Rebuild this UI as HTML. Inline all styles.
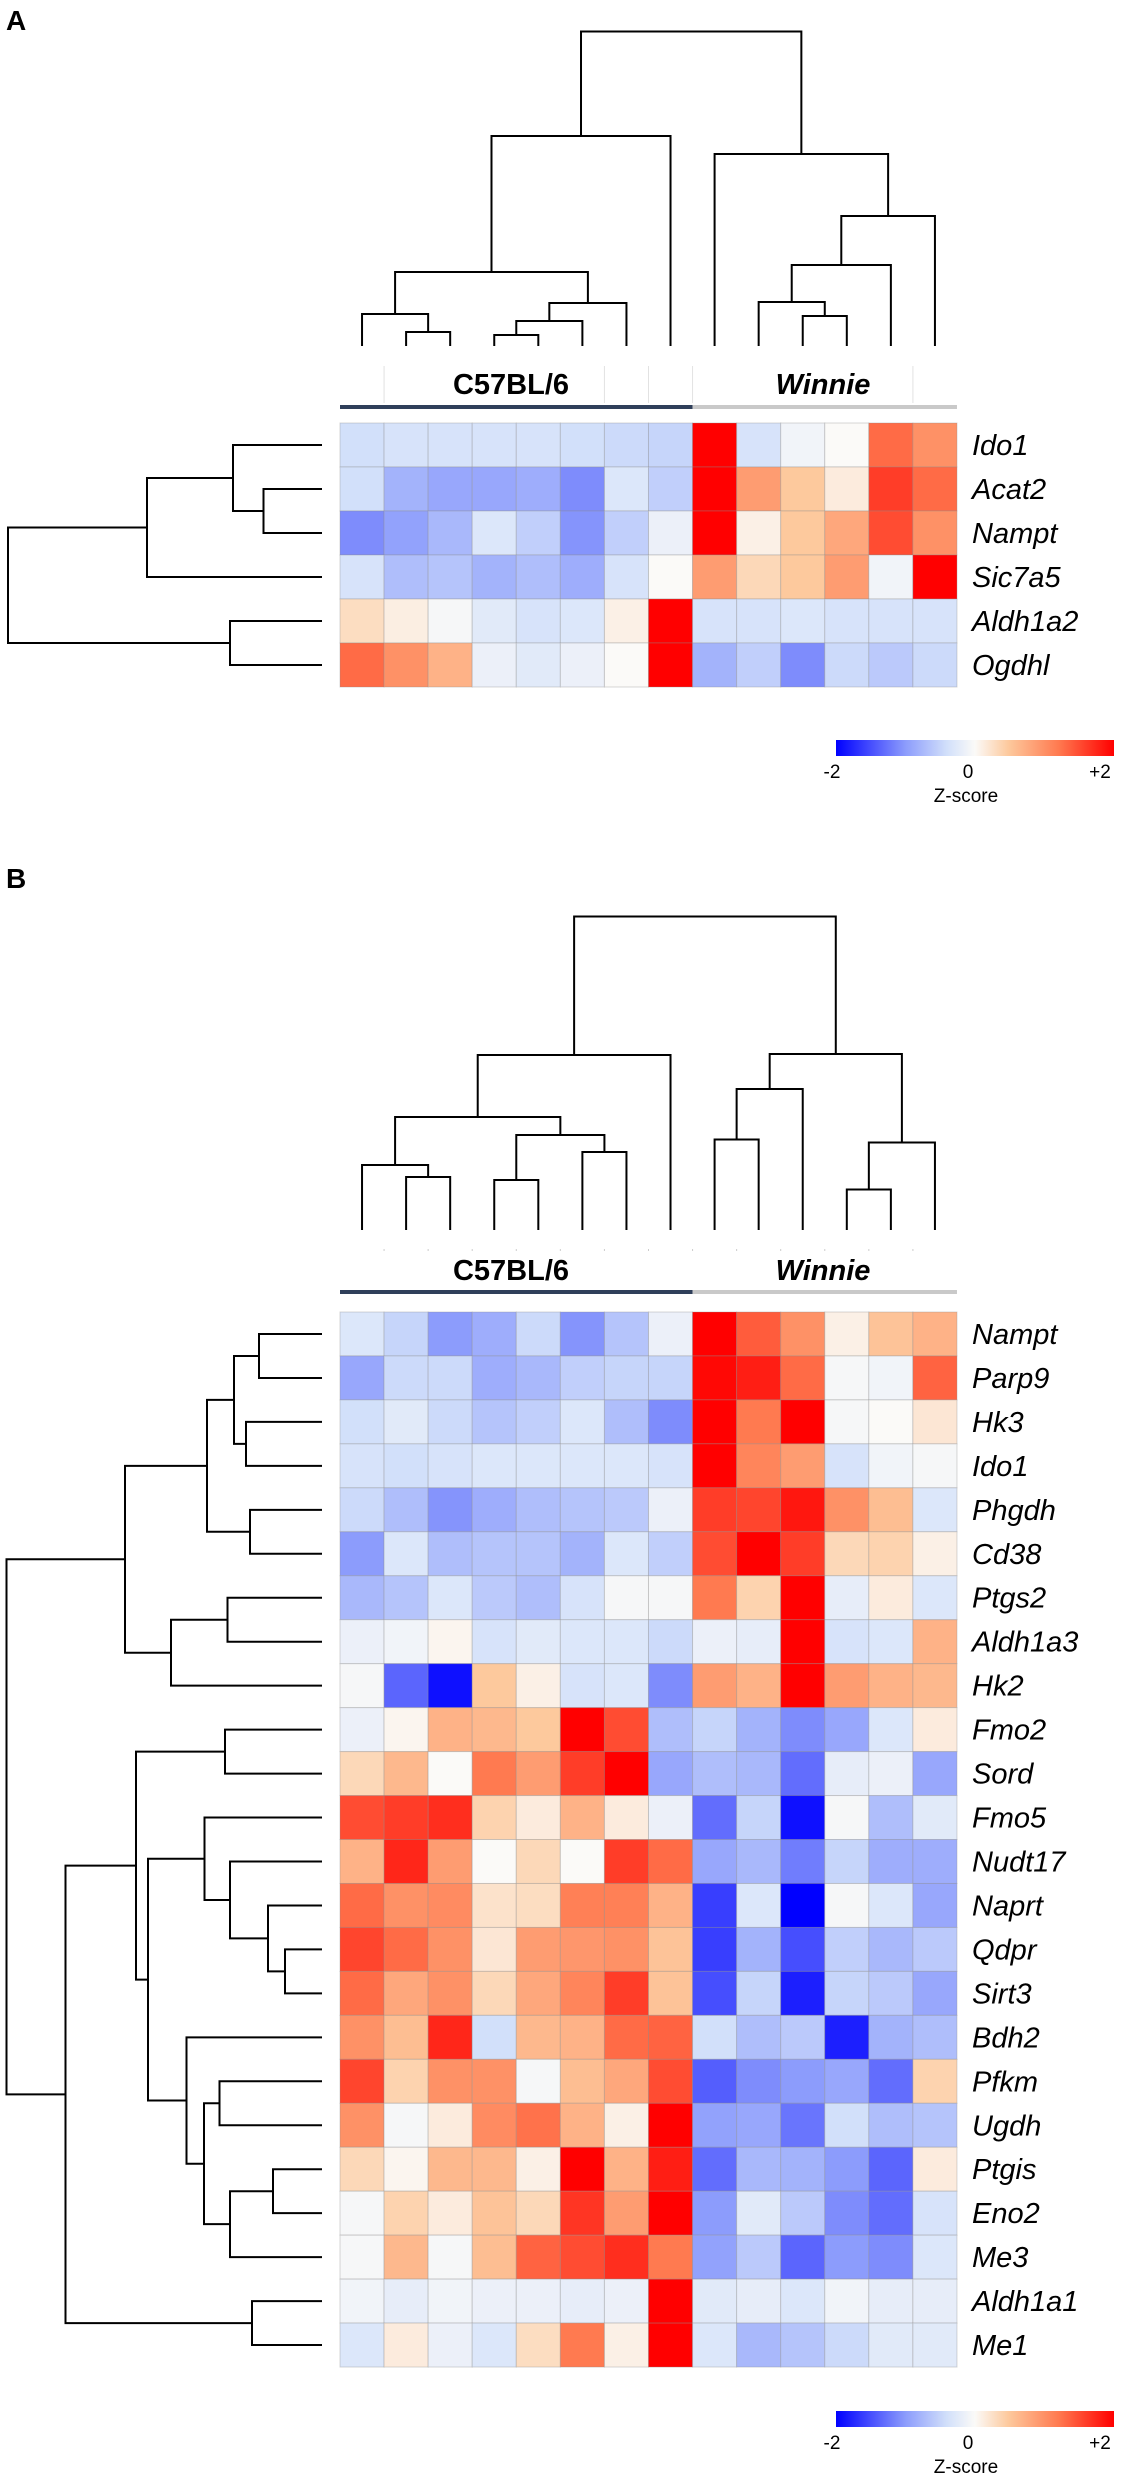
<!DOCTYPE html>
<html><head><meta charset="utf-8">
<style>
html,body{margin:0;padding:0;background:#fff;}
svg{display:block;font-family:"Liberation Sans",Arial,sans-serif;}
</style></head>
<body>
<svg id="fig" width="1123" height="2480" viewBox="0 0 1123 2480" xmlns="http://www.w3.org/2000/svg">
<defs>
<linearGradient id="zgrad" x1="0" x2="1" y1="0" y2="0">
<stop offset="0" stop-color="#0000ff"/>
<stop offset="0.25" stop-color="#8c9cfc"/>
<stop offset="0.4" stop-color="#d2e0fa"/>
<stop offset="0.5" stop-color="#fbfaf8"/>
<stop offset="0.62" stop-color="#fdc99d"/>
<stop offset="0.8" stop-color="#ff7a50"/>
<stop offset="1" stop-color="#ff0000"/>
</linearGradient>
</defs>
<text x="6" y="30" font-size="28" font-weight="bold">A</text>
<text x="6" y="888" font-size="28" font-weight="bold">B</text>
</svg>
<script>
// ---------- Data ----------
const groupLabels = ["C57BL/6", "Winnie"];
const genesA = ["Ido1","Acat2","Nampt","Sic7a5","Aldh1a2","Ogdhl"];
const valuesA = [
 [-0.4,-0.35,-0.35,-0.35,-0.35,-0.4,-0.45,-0.5, 2,-0.35,-0.1,0,1.3,1.0],
 [-0.4,-0.8,-0.9,-0.9,-0.85,-1.1,-0.3,-0.55, 2,0.9,0.5,0.15,1.6,1.3],
 [-1.1,-0.95,-0.75,-0.3,-0.55,-1.05,-0.55,-0.15, 2,0.1,0.5,0.8,1.5,1.0],
 [-0.35,-0.7,-0.65,-0.8,-0.7,-0.85,-0.35,0, 0.9,0.35,0.5,0.9,-0.1,2],
 [0.3,0.12,-0.05,-0.25,-0.35,-0.3,0.1,2, -0.35,-0.35,-0.3,-0.35,-0.35,-0.35],
 [1.3,1.0,0.7,-0.15,-0.25,-0.15,0,2, -0.8,-0.55,-1.1,-0.45,-0.6,-0.45]
];
const genesB = ["Nampt","Parp9","Hk3","Ido1","Phgdh","Cd38","Ptgs2","Aldh1a3","Hk2","Fmo2","Sord","Fmo5","Nudt17","Naprt","Qdpr","Sirt3","Bdh2","Pfkm","Ugdh","Ptgis","Eno2","Me3","Aldh1a1","Me1"];
const valuesB = [
 [-0.3,-0.5,-1.0,-0.85,-0.45,-1.05,-0.65,-0.15, 2,1.4,1.0,0.1,0.55,0.7],
 [-0.9,-0.45,-0.45,-0.85,-0.75,-0.55,-0.5,-0.5, 1.95,1.8,1.3,-0.05,-0.1,1.35],
 [-0.4,-0.25,-0.45,-0.65,-0.55,-0.3,-0.7,-1.1, 2,1.2,2,-0.05,0,0.2],
 [-0.35,-0.4,-0.35,-0.3,-0.3,-0.3,-0.3,-0.35, 2,1.1,0.9,-0.35,-0.1,-0.05],
 [-0.45,-0.7,-1.05,-0.85,-0.7,-0.65,-0.6,-0.15, 1.6,1.55,1.85,1.0,0.6,-0.3],
 [-1.0,-0.3,-0.7,-0.65,-0.65,-0.8,-0.3,-0.55, 1.5,2,1.6,0.35,0.4,0.1],
 [-0.75,-0.65,-0.3,-0.6,-0.7,-0.35,-0.05,-0.05, 1.2,0.4,2,-0.2,0.15,-0.3],
 [-0.15,-0.1,0.05,-0.35,-0.25,-0.3,-0.3,-0.45, -0.15,-0.2,2,-0.35,-0.3,0.7],
 [-0.05,-1.35,-1.9,0.5,0.1,-0.35,-0.3,-1.1, 0.9,0.7,2,0.9,0.7,0.65],
 [-0.15,0.05,0.7,0.65,0.5,2,1.5,-0.7, -0.5,-0.8,-1.1,-0.9,-0.3,0.15],
 [0.35,0.65,0,1.2,0.9,1.6,2,-0.9, -0.7,-0.75,-1.3,-0.2,-0.15,-0.9],
 [1.5,1.6,1.7,0.4,0.15,0.7,0.15,-0.15, -1.3,-0.5,-1.9,-0.05,-0.7,-0.25],
 [0.7,1.75,0.9,0,0.35,0,1.6,1.3, -0.9,-0.75,-1.2,-0.5,-0.85,-0.85],
 [1.3,1.0,1.05,0.25,0.3,1.15,1.15,0.7, -1.6,-0.3,-2,-0.05,-0.3,-0.9],
 [1.55,1.3,1.0,0.2,0.9,0.95,1.0,0.55, -1.6,-0.8,-1.5,-0.55,-0.75,-0.6],
 [1.3,0.8,1.0,0.35,0.8,1.1,1.6,0.55, -1.5,-0.5,-1.8,-0.5,-0.6,-0.9],
 [1.0,0.6,1.75,-0.4,0.65,0.7,1.3,1.35, -0.4,-0.7,-0.6,-1.8,-0.8,-0.7],
 [1.55,0.4,1.0,1.0,-0.05,0.6,0.8,1.5, -1.4,-1.1,-1.0,-0.9,-1.3,0.4],
 [1.0,-0.05,0.15,1.05,1.25,0.7,0.1,2, -0.95,-0.9,-1.25,-0.4,-0.7,-0.65],
 [0.35,0.05,0.65,0.65,0.1,2,0.7,1.8, -1.3,-0.75,-0.8,-1.0,-1.35,0.15],
 [-0.05,0.4,0.15,0.55,0.35,1.65,0.9,2, -1.0,-0.25,-0.6,-1.1,-1.3,-0.35],
 [-0.05,0.65,-0.05,0.6,1.35,1.5,1.7,1.2, -0.95,-0.6,-1.35,-1.0,-1.1,-0.3],
 [-0.1,-0.2,-0.1,-0.15,-0.15,-0.2,-0.15,2, -0.25,-0.2,-0.3,-0.1,-0.2,-0.2],
 [-0.3,0.15,-0.15,-0.3,0.3,1.2,0.1,2, -0.3,-0.75,-0.65,-0.45,-0.25,-0.25]
];
// dendrogram merges: [a, b, height]; leaves = "L#", previous merges = "M#"
const colTreeA = [["L1","L2",14],["L0","M0",32],["L3","L4",11],["M2","L5",25],["M3","L6",43],["M1","M4",74],["M5","L7",210],
 ["L10","L11",30],["L9","M7",44],["M8","L12",81],["M9","L13",130],["L8","M10",192],["M6","M11",314.5]];
const rowTreeA = [["L1","L2",58.5],["L0","M0",89],["M1","L3",175],["L4","L5",92],["M2","M3",314]];
const colTreeB = [["L1","L2",53],["L0","M0",65],["L3","L4",50],["L5","L6",78],["M2","M3",95],["M1","M4",113],["M5","L7",175],
 ["L8","L9",90.5],["M7","L10",141],["L11","L12",40.5],["M9","L13",87.5],["M8","M10",176],["M6","M11",313.5]];
const rowTreeB = [["L0","L1",63],["L2","L3",76],["M0","M1",88],["L4","L5",72],["M2","M3",115],["L6","L7",94.5],["M5","L8",151],["M4","M6",197],
 ["L9","L10",97],["L14","L15",37],["L13","M9",54],["L12","M10",92],["L11","M11",117.5],["L17","L18",102.5],["L19","L20",49],["M14","L21",92],
 ["M13","M15",118],["L16","M16",135.5],["M12","M17",174],["M8","M18",186],["L22","L23",70],["M19","M20",256.5],["M7","M21",315.5]];
const scaleTicks = ["-2","0","+2"];

// ---------- Drawing ----------
const NS = "http://www.w3.org/2000/svg";
const svg = document.getElementById("fig");
function mk(tag, attrs, parent){ const e=document.createElementNS(NS,tag); for(const k in attrs) e.setAttribute(k,attrs[k]); (parent||svg).appendChild(e); return e; }
const stops=[[-2,[0,0,255]],[-1,[140,156,252]],[-0.4,[210,224,250]],[0,[251,250,248]],[0.5,[253,201,157]],[1.2,[255,122,80]],[2,[255,0,0]]];
function color(v){ v=Math.max(-2,Math.min(2,v)); for(let i=0;i<stops.length-1;i++){const [a,ca]=stops[i],[b,cb]=stops[i+1]; if(v<=b){const t=(v-a)/(b-a); return "rgb("+ca.map((c,j)=>Math.round(c+(cb[j]-c)*t)).join(",")+")";}} return "rgb(255,0,0)"; }

function drawTree(tree, leafPos, base, dir, g, name){
  // dir "up": base is y of leaf ends, height decreases y; "left": base is x, height decreases x
  const nodes={};
  const pos=(id)=> id[0]==="L"? {p:leafPos(+id.slice(1)),h:0} : nodes[id];
  tree.forEach((m,i)=>{
    const a=pos(m[0]), b=pos(m[1]), h=m[2];
    let d;
    if(dir==="up"){ const ya=base-a.h, yb=base-b.h, y=base-h; d=`M${a.p},${ya}V${y}H${b.p}V${yb}`; }
    else { const xa=base-a.h, xb=base-b.h, x=base-h; d=`M${xa},${a.p}H${x}V${b.p}H${xb}`; }
    const p=mk("path",{d:d,fill:"none",stroke:"#000","stroke-width":2},g);
    
    
    nodes["M"+i]={p:(a.p+b.p)/2,h:h};
  });
}

function panel(cfg){
  const {genes,values,colTree,rowTree,x0,y0,cw,rh,leafBottom,hdrBase,barY,ticks,cbY,prefix}=cfg;
  const nC=values[0].length;
  const colX=(j)=>x0+cw*(j+0.5), rowY=(i)=>y0+rh*(i+0.5);
  const g=mk("g",{});  
  // column dendrogram
  const cg=mk("g",{},g);
  
  
  drawTree(colTree,colX,leafBottom,"up",cg,prefix+'-column-dendrogram');
  // row dendrogram
  const rg=mk("g",{},g);
  
  
  drawTree(rowTree,rowY,322,"left",rg,prefix+'-row-dendrogram');
  // group header
  if(ticks){ [1,6,7,8,13].forEach(j=>{ const l=mk("line",{x1:x0+cw*j,x2:x0+cw*j,y1:hdrBase-28,y2:barY-2,stroke:"#e2e2e2","stroke-width":1},g);   }); }
  else { for(let j=1;j<nC;j++){ const l=mk("line",{x1:x0+cw*j,x2:x0+cw*j,y1:hdrBase-31,y2:hdrBase-29,stroke:"#ccc","stroke-width":1},g);   } }
  const b1=mk("rect",{x:x0,y:barY,width:cw*8,height:4,fill:"#2f3f5a"},g);
   
  const b2=mk("rect",{x:x0+cw*8,y:barY,width:cw*6,height:4,fill:"#c9c9c9"},g);
   
  const t1=mk("text",{x:511,y:hdrBase,"font-size":29,"font-weight":"bold","text-anchor":"middle"},g); t1.textContent=groupLabels[0];
   
  const t2=mk("text",{x:823,y:hdrBase,"font-size":29,"font-weight":"bold","font-style":"italic","text-anchor":"middle"},g); t2.textContent=groupLabels[1];
   
  // cells
  values.forEach((row,i)=>row.forEach((v,j)=>{
    const r=mk("rect",{x:x0+cw*j,y:y0+rh*i,width:cw,height:rh,fill:color(v),stroke:"rgba(140,140,140,0.35)","stroke-width":1},g);
    
    
  }));
  // gene labels
  genes.forEach((gn,i)=>{
    const t=mk("text",{x:972,y:rowY(i)+10,"font-size":29,"font-style":"italic"},g); t.textContent=gn;
    
    
  });
  // colorbar
  const cb=mk("rect",{x:836,y:cbY,width:278,height:16,fill:"url(#zgrad)"},g);
   
  [832,968,1100].forEach((x,k)=>{ const t=mk("text",{x:x,y:cbY+38,"font-size":19,"text-anchor":"middle"},g); t.textContent=scaleTicks[k];
      });
  const zt=mk("text",{x:966,y:cbY+62,"font-size":19,"text-anchor":"middle"},g); zt.textContent="Z-score";
   
}

panel({genes:genesA,values:valuesA,colTree:colTreeA,rowTree:rowTreeA,x0:340,y0:423,cw:44.07,rh:44,leafBottom:346,hdrBase:394,barY:405,ticks:true,cbY:740,prefix:"panel-a"});
panel({genes:genesB,values:valuesB,colTree:colTreeB,rowTree:rowTreeB,x0:340,y0:1312,cw:44.07,rh:43.96,leafBottom:1230,hdrBase:1280,barY:1290,ticks:false,cbY:2411,prefix:"panel-b"});
</script>
</body></html>
